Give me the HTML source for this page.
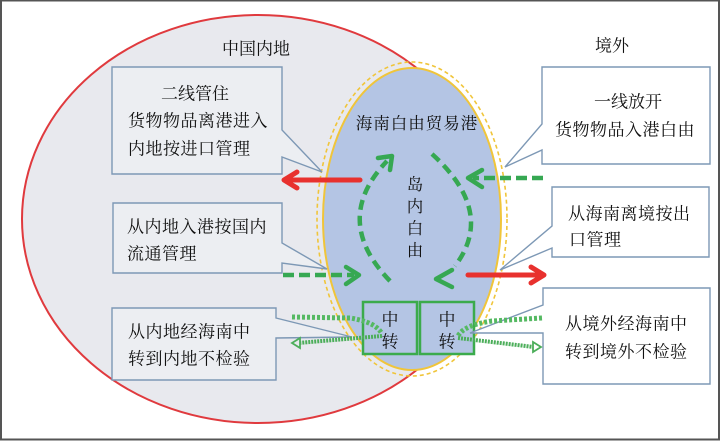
<!DOCTYPE html>
<html><head><meta charset="utf-8"><style>
html,body{margin:0;padding:0;background:#fff;}
svg{display:block;}
text{font-family:"Noto Serif CJK SC","Liberation Serif",serif;fill:#111;}
</style></head><body>
<svg width="720" height="441" viewBox="0 0 720 441" xmlns="http://www.w3.org/2000/svg">
<rect x="0" y="0" width="720" height="441" fill="#fff"/>
<!-- mainland ellipse -->
<ellipse cx="258" cy="219" rx="236" ry="204" fill="#e8e9ee" stroke="#e03a3e" stroke-width="2"/>
<!-- hainan -->
<ellipse cx="412" cy="219" rx="95" ry="157" fill="none" stroke="#f0c53a" stroke-width="1.6" stroke-dasharray="4 3"/>
<ellipse cx="412" cy="219" rx="89" ry="151" fill="#b4c5e4" stroke="#f0c53a" stroke-width="2"/>

<!-- labels -->
<text x="256" y="47" font-size="17" text-anchor="middle" dominant-baseline="central">中国内地</text>
<text x="612" y="44" font-size="17" text-anchor="middle" dominant-baseline="central">境外</text>
<text x="417" y="122" font-size="16.5" text-anchor="middle" dominant-baseline="central" letter-spacing="1">海南白由贸易港</text>
<g font-size="16.5" text-anchor="middle" dominant-baseline="central">
<text x="415" y="183">岛</text><text x="415" y="205">内</text><text x="415" y="227">白</text><text x="415" y="249">由</text>
</g>

<!-- transit boxes -->
<rect x="363" y="302" width="54" height="52" fill="#b4c5e4" stroke="#3bab4c" stroke-width="2.5"/>
<rect x="420" y="302" width="54" height="52" fill="#b4c5e4" stroke="#3bab4c" stroke-width="2.5"/>
<g font-size="17" text-anchor="middle" dominant-baseline="central">
<text x="390" y="318">中</text><text x="390" y="340">转</text>
<text x="447" y="318">中</text><text x="447" y="340">转</text>
</g>

<!-- callout boxes -->
<g stroke="#7d98b5" stroke-width="1.4">
<path d="M112,67 H282 V130 L322,172 L282,157 V174 H112 Z" fill="#eceef2"/>
<path d="M113,203 H282 V243 L327,269 L282,263 V273 H113 Z" fill="#eceef2"/>
<path d="M112,308 H276 V318 L352,337 L276,338 V380 H112 Z" fill="#eceef2"/>
<path d="M542,67 H710 V164 H542 V150 L505,167 L542,124 Z" fill="#fff"/>
<path d="M552,187 H709 V257 H552 V248 L500,270 L552,226 Z" fill="#fff"/>
<path d="M543,288 H710 V384 H543 V333 L470,333 L543,305 Z" fill="#fff"/>
</g>
<g font-size="17" dominant-baseline="central">
<text x="195" y="92" text-anchor="middle">二线管住</text>
<text x="128" y="119" letter-spacing="0.5">货物物品离港进入</text>
<text x="128" y="147" letter-spacing="0.5">内地按进口管理</text>
<text x="127" y="225" letter-spacing="0.5">从内地入港按国内</text>
<text x="127" y="252" letter-spacing="0.5">流通管理</text>
<text x="128" y="330" letter-spacing="0.5">从内地经海南中</text>
<text x="128" y="357" letter-spacing="0.5">转到内地不检验</text>
<text x="628" y="100" text-anchor="middle">一线放开</text>
<text x="625" y="128" text-anchor="middle" letter-spacing="0.5">货物物品入港白由</text>
<text x="568" y="212" letter-spacing="0.5">从海南离境按出</text>
<text x="569" y="238" letter-spacing="0.5">口管理</text>
<text x="565" y="322" letter-spacing="0.5">从境外经海南中</text>
<text x="565" y="350" letter-spacing="0.5">转到境外不检验</text>
</g>

<!-- red arrows -->
<g stroke="#e8312e" stroke-width="5" fill="none" stroke-linecap="round" stroke-linejoin="round">
<line x1="360" y1="180" x2="288" y2="180"/>
<polyline points="297,172 284,180 297,188"/>
<line x1="468" y1="275" x2="540" y2="275"/>
<polyline points="531,267 544,275 531,283"/>
</g>

<!-- green dashed arrows -->
<g stroke="#36a852" stroke-width="4.5" fill="none" stroke-linejoin="round">
<line x1="283" y1="275" x2="354" y2="275" stroke-dasharray="11 5"/>
<polyline points="346,267 359,275 346,284" stroke-linecap="round"/>
<line x1="543" y1="178" x2="473" y2="178" stroke-dasharray="11 5"/>
<polyline points="482,170 468,178 482,187" stroke-linecap="round"/>
<path d="M390,281 Q331,220 387,161" stroke-dasharray="10 6"/>
<polyline points="378,158 392,156 390,170" stroke-linecap="round"/>
<path d="M432,154 Q496,212 455,266" stroke-dasharray="10 6"/>
<polyline points="452,270 436,279 452,287" stroke-linecap="round"/>
</g>

<!-- transit dotted lines -->
<g fill="none">
<path d="M292,317 L350,318 Q376,322 382,334" stroke="#55b962" stroke-width="5" stroke-dasharray="3 2"/>
<path d="M382,336 L298,343" stroke="#4cae5a" stroke-width="4" stroke-dasharray="2 1"/>
<polygon points="292,343 300,338 300,348" stroke="#4cae5a" stroke-width="1.8" fill="#e8e9ee"/>
<path d="M542,318 L492,321 Q464,325 458,336" stroke="#55b962" stroke-width="5" stroke-dasharray="3 2"/>
<path d="M458,338 L534,347" stroke="#4cae5a" stroke-width="4" stroke-dasharray="2 1"/>
<polygon points="541,347 533,342 533,352" stroke="#4cae5a" stroke-width="1.8" fill="#fff"/>
</g>

<!-- frame -->
<rect x="1" y="0.5" width="718" height="439" fill="none" stroke="#555" stroke-width="2"/>
</svg>
</body></html>
